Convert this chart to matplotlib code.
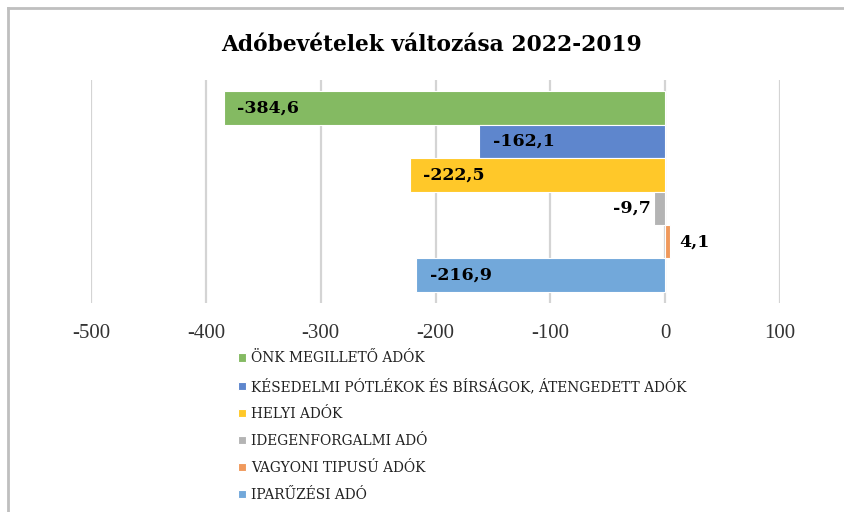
import matplotlib
matplotlib.use("Agg")
import matplotlib.pyplot as plt
from matplotlib.lines import Line2D

title = "Adóbevételek változása 2022-2019"
categories = ["ÖNK MEGILLETŐ ADÓK",
              "KÉSEDELMI PÓTLÉKOK ÉS BÍRSÁGOK, ÁTENGEDETT ADÓK",
              "HELYI ADÓK",
              "IDEGENFORGALMI ADÓ",
              "VAGYONI TIPUSÚ ADÓK",
              "IPARŰZÉSI ADÓ"]
values = [-384.6, -162.1, -222.5, -9.7, 4.1, -216.9]
colors = ["#84BA62", "#5E86CD", "#FFC829", "#B4B4B4", "#F0995C", "#72A8DA"]
xticks = [-500, -400, -300, -200, -100, 0, 100]

W, H = 845, 512
fig = plt.figure(figsize=(W / 100, H / 100), dpi=100)
ax = fig.add_axes([91 / W, 1 - 303 / H, (780 - 91) / W, (303 - 80) / H])

bars = []
for i, (c, v, col) in enumerate(zip(categories, values, colors)):
    b = ax.barh(i, v, height=1.0, color=col, edgecolor="white", linewidth=0.8, label=c, zorder=3)
    bars.append(b)

ax.set_xlim(-500, 100)
ax.set_ylim(5.5 + 0.33, -0.5 - 0.33)
ax.set_xticks(xticks)
ax.set_xticklabels([str(t) for t in xticks], family="Liberation Serif", fontsize=15, color="#333333")
ax.tick_params(axis="x", length=0, pad=15)
ax.set_yticks([])
ax.grid(axis="x", color="#D4D4D4", linewidth=1.6, zorder=0)
for s in ax.spines.values():
    s.set_visible(False)

lab_font = dict(family="DejaVu Serif", fontsize=12.5, fontweight="bold", color="black")
for i, v in enumerate(values):
    txt = f"{v:.1f}".replace(".", ",")
    if v < -50:
        ax.text(v + 12, i, txt, ha="left", va="center", zorder=4, **lab_font)
    elif v < 0:
        ax.text(v - 3, i, txt, ha="right", va="center", zorder=4, **lab_font)
    else:
        ax.text(v + 8, i, txt, ha="left", va="center", zorder=4, **lab_font)

fig.text(432 / W, 1 - 45 / H, title, ha="center", va="center",
         family="DejaVu Serif", fontsize=15.7, fontweight="bold")

handles = [b.patches[0] for b in bars]
leg = fig.legend(handles, categories, loc="upper left",
                 bbox_to_anchor=(226 / W, 1 - 339 / H),
                 frameon=False, handlelength=0.55, handleheight=0.55,
                 handletextpad=0.35, labelspacing=0.94,
                 prop=dict(family="DejaVu Serif", size=9.9))
for t in leg.get_texts():
    t.set_color("#222222")

fig.add_artist(Line2D([8 / W, 8 / W], [0, 1 - 8 / H], color="#BFBFBF", linewidth=2, transform=fig.transFigure))
fig.add_artist(Line2D([8 / W, 1], [1 - 8 / H, 1 - 8 / H], color="#BFBFBF", linewidth=2, transform=fig.transFigure))

fig.savefig("out.png", dpi=100)
